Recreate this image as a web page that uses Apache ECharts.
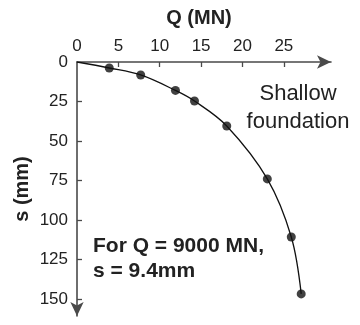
<!DOCTYPE html>
<html>
<head>
<meta charset="utf-8">
<script src="https://cdn.jsdelivr.net/npm/echarts@6/dist/echarts.min.js"></script>
<style>
  html, body { margin: 0; padding: 0; background: #fff; }
  #chart { width: 360px; height: 325px; }
</style>
</head>
<body>
<div id="chart"></div>
<script>
// Load–settlement curve of a shallow foundation
const loadQ = [3.9, 7.7, 11.9, 14.2, 18.1, 23.0, 25.9, 27.1];          // Q (MN)
const settlement = [3.8, 8.2, 18.0, 24.7, 40.5, 74.0, 110.8, 146.8];   // s (mm)
const qTicks = [0, 5, 10, 15, 20, 25];
const sTicks = [0, 25, 50, 75, 100, 125, 150];
const noteLines = ['For Q = 9000 MN,', 's = 9.4mm'];
const curveLabel = ['Shallow', 'foundation'];

const points = loadQ.map((q, i) => [q, settlement[i]]);
const curve = [[0, 0]].concat(points);

const FONT = '"Liberation Sans", Arial, Helvetica, sans-serif';
const axisColor = '#4a4a4a';

const chart = echarts.init(document.getElementById('chart'), null, { renderer: 'canvas' });

chart.setOption({
  animation: false,
  backgroundColor: '#ffffff',
  grid: { left: 77, top: 62, width: 254, height: 254, containLabel: false },
  xAxis: {
    type: 'value',
    position: 'top',
    min: 0,
    max: 30.7,
    name: 'Q (MN)',
    nameLocation: 'middle',
    nameGap: 34,
    nameMoveOverlap: false,
    nameTextStyle: { fontFamily: FONT, fontSize: 20, fontWeight: 'bold', color: '#222', padding: [0, 10, 0, 0] },
    axisLine: { show: true, lineStyle: { color: axisColor, width: 1.6 }, symbol: ['none', 'arrow'], symbolSize: [10, 14] },
    axisTick: { show: true, inside: true, length: 5, lineStyle: { color: axisColor, width: 1.3 }, customValues: qTicks.slice(1) },
    axisLabel: { fontFamily: FONT, fontSize: 17, color: '#222', margin: 7, customValues: qTicks },
    splitLine: { show: false }
  },
  yAxis: {
    type: 'value',
    inverse: true,
    min: 0,
    max: 160.8,
    name: 's (mm)',
    nameLocation: 'middle',
    nameRotate: 90,
    nameGap: 45,
    nameMoveOverlap: false,
    nameTextStyle: { fontFamily: FONT, fontSize: 20, fontWeight: 'bold', color: '#222' },
    axisLine: { show: true, lineStyle: { color: axisColor, width: 1.6 }, symbol: ['arrow', 'none'], symbolSize: [10, 14] },
    axisTick: { show: true, inside: true, length: 5, lineStyle: { color: axisColor, width: 1.3 }, customValues: sTicks.slice(1) },
    axisLabel: { fontFamily: FONT, fontSize: 17, color: '#222', margin: 9, customValues: sTicks },
    splitLine: { show: false }
  },
  series: [
    {
      type: 'line',
      data: curve,
      smooth: 0.35,
      showSymbol: false,
      lineStyle: { color: '#111', width: 1.3 },
      z: 2
    },
    {
      type: 'scatter',
      data: points,
      symbol: 'circle',
      symbolSize: 9,
      itemStyle: { color: '#111' },
      z: 3
    }
  ],
  graphic: [
    {
      type: 'text', x: 298, y: 94,
      style: { text: curveLabel[0], font: '22px ' + FONT, fill: '#222', align: 'center', verticalAlign: 'middle' }
    },
    {
      type: 'text', x: 298, y: 122,
      style: { text: curveLabel[1], font: '22px ' + FONT, fill: '#222', align: 'center', verticalAlign: 'middle' }
    },
    {
      type: 'text', x: 93, y: 246,
      style: { text: noteLines[0], font: 'bold 21px ' + FONT, fill: '#222', align: 'left', verticalAlign: 'middle' }
    },
    {
      type: 'text', x: 93, y: 271,
      style: { text: noteLines[1], font: 'bold 21px ' + FONT, fill: '#222', align: 'left', verticalAlign: 'middle' }
    }
  ]
});
</script>
</body>
</html>
